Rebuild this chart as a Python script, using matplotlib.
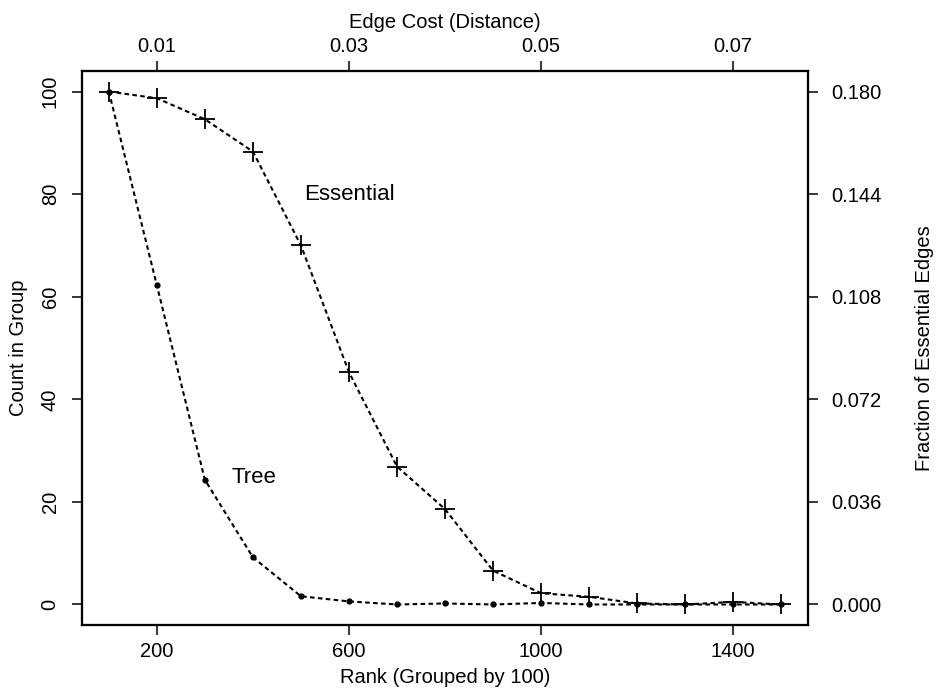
import numpy as np
import matplotlib
matplotlib.use("Agg")
import matplotlib.pyplot as plt

plt.rcParams['font.family'] = ['Liberation Sans', 'DejaVu Sans']

# Rank groups (grouped by 100)
rank = [100, 200, 300, 400, 500, 600, 700, 800, 900, 1000, 1100, 1200, 1300, 1400, 1500]
essential = [100, 98.7, 94.6, 88.3, 70.0, 45.3, 26.9, 18.6, 6.6, 2.2, 1.5, 0.2, 0.0, 0.5, 0.0]
tree = [100, 62.2, 24.3, 9.2, 1.6, 0.6, 0.0, 0.2, 0.0, 0.3, 0.0, 0.0, 0.0, 0.0, 0.0]

bottom_ticks = [200, 600, 1000, 1400]
top_labels = ['0.01', '0.03', '0.05', '0.07']
left_ticks = [0, 20, 40, 60, 80, 100]
right_labels = ['0.000', '0.036', '0.072', '0.108', '0.144', '0.180']

fs = 14.5

fig = plt.figure(figsize=(9.4, 6.9), dpi=100)
ax = fig.add_axes([0.0872, 0.0942, 0.7724, 0.8028])

dash = (0, (2.2, 1.6))
ax.plot(rank, essential, color='black', lw=1.5, linestyle=dash,
        marker='+', markersize=15, markeredgewidth=1.3)
ax.plot(rank, tree, color='black', lw=1.5, linestyle=dash,
        marker='o', markersize=3.5)

ax.text(600, 80, 'Essential', fontsize=16, ha='center', va='center')
ax.text(403, 24.7, 'Tree', fontsize=16, ha='center', va='center')

ax.set_xlim(44, 1556)
ax.set_ylim(-4, 104)
ax.set_xticks(bottom_ticks)
ax.set_yticks(left_ticks)
ax.set_yticklabels([str(t) for t in left_ticks], rotation=90, va='center')
ax.tick_params(axis='x', direction='out', length=7, width=1.1, labelsize=fs, pad=5)
ax.tick_params(axis='y', direction='out', length=7, width=1.1, labelsize=fs, pad=9)
ax.set_xlabel('Rank (Grouped by 100)', fontsize=fs, labelpad=5)
ax.set_ylabel('Count in Group', fontsize=fs, labelpad=9)

# top axis: edge cost
axt = ax.twiny()
axt.set_xlim(ax.get_xlim())
axt.set_xticks(bottom_ticks)
axt.set_xticklabels(top_labels)
axt.tick_params(direction='out', length=7, width=1.1, labelsize=fs, pad=4)
axt.set_xlabel('Edge Cost (Distance)', fontsize=fs, labelpad=6)

# right axis: fraction of essential edges
axr = ax.twinx()
axr.set_ylim(ax.get_ylim())
axr.set_yticks(left_ticks)
axr.set_yticklabels(right_labels)
axr.tick_params(direction='out', length=7, width=1.1, labelsize=fs, pad=10)
axr.set_ylabel('Fraction of Essential Edges', fontsize=fs, labelpad=24)

for a in (ax, axt, axr):
    for s in a.spines.values():
        s.set_linewidth(1.5)

fig.savefig('out.png', dpi=100)
